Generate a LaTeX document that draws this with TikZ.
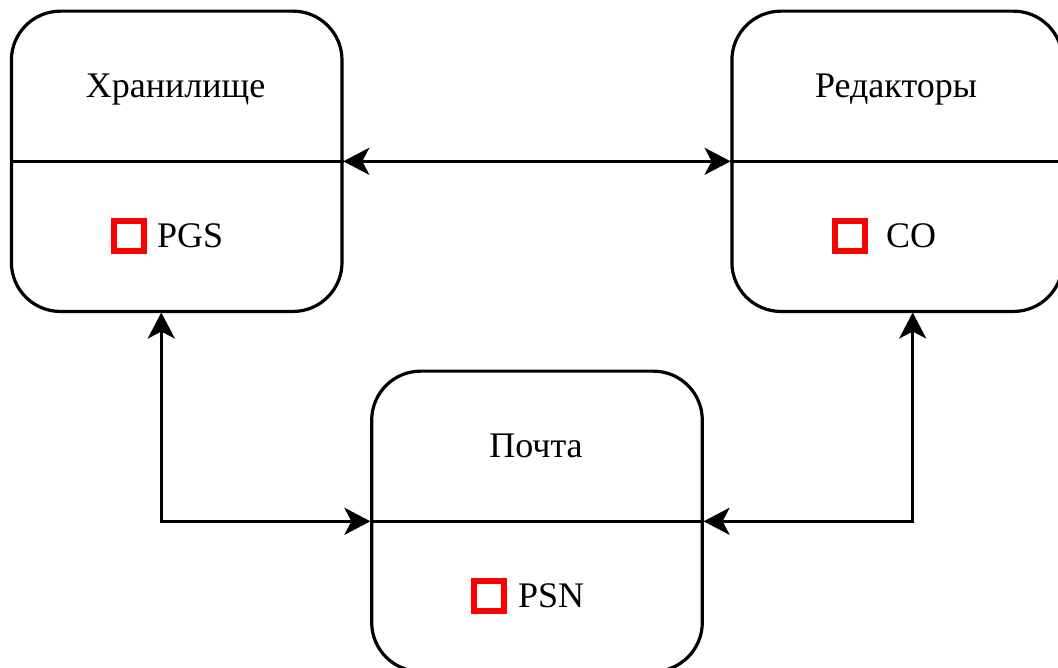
\documentclass[tikz,border=0pt]{standalone}
\usepackage{fontspec}
\setmainfont{Liberation Serif}
\usetikzlibrary{arrows.meta}
\tikzset{
  x=1pt,y=-1pt,
  box/.style={draw=black,line width=3.2pt,rounded corners=49pt,minimum width=330.6pt,minimum height=300.3pt,inner sep=0pt,fill=white},
  divider/.style={draw=black,line width=3.2pt},
  link/.style={draw=black,line width=3.2pt,{Stealth[length=26pt,width=27pt,inset=7pt]}-{Stealth[length=26pt,width=27pt,inset=7pt]},shorten <=-0.3pt,shorten >=-0.3pt},
  label/.style={inner sep=0pt,font=\fontsize{36}{36}\selectfont,text=black},
  marker/.style={draw=red,line width=6pt,minimum size=30pt,inner sep=0pt,fill=white}
}
\begin{document}
\begin{tikzpicture}
\useasboundingbox (0,0) rectangle (1058,668);
\node[box] (store) at (176.7,161.3) {};
\node[box] (edit) at (897.2,161.3) {};
\node[box] (mail) at (537,521.3) {};
\coordinate (storeport) at (161.3,312.8);
\coordinate (editport) at (912.7,312.8);
\draw[divider] (store.west) -- (store.east);
\draw[divider] (edit.west) -- (edit.east);
\draw[divider] (mail.west) -- (mail.east);
\node[label,anchor=base] (t1) at (175.7,97.3) {Хранилище};
\node[label,anchor=base] (t2) at (896,97.3) {Редакторы};
\node[label,anchor=base] (t3) at (536,457.3) {Почта};
\node[marker] (m1) at (128.7,236.3) {};
\node[marker] (m2) at (849.5,236.3) {};
\node[marker] (m3) at (489,596.3) {};
\node[label,anchor=base west] (p1) at (157,247.3) {PGS};
\node[label,anchor=base west] (p2) at (886,247.3) {CO};
\node[label,anchor=base west] (p3) at (518,607.3) {PSN};
\draw[link] (store.east) -- (edit.west);
\draw[link] (storeport) |- (mail.west);
\draw[link] (editport) |- (mail.east);
\end{tikzpicture}
\end{document}
